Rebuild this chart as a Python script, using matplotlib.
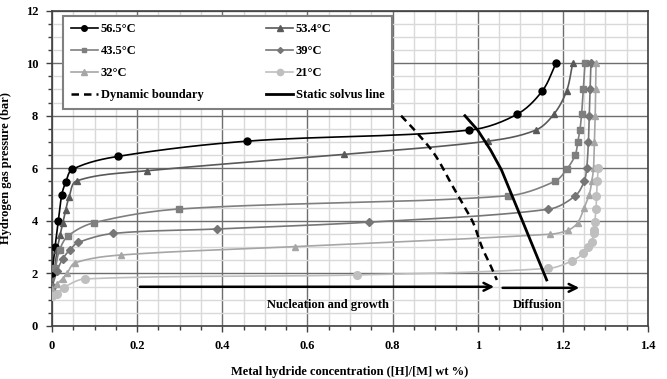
import numpy as np
import matplotlib
matplotlib.use('Agg')
import matplotlib.pyplot as plt
from matplotlib.ticker import MultipleLocator

plt.rcParams['font.family'] = ['Liberation Serif', 'DejaVu Serif']
plt.rcParams['font.weight'] = 'bold'

# isotherm data: concentration ([H]/[M]) and pressure (bar)
x_565 = [0.0, 0.007, 0.015, 0.023, 0.032, 0.048, 0.154, 0.457, 0.980, 1.092, 1.152, 1.184]
p_565 = [2.0, 3.0, 4.0, 5.0, 5.46, 5.96, 6.45, 7.03, 7.45, 8.05, 8.95, 10.0]

x_534 = [0.0, 0.006, 0.012, 0.019, 0.025, 0.032, 0.040, 0.058, 0.222, 0.687, 1.023, 1.136, 1.179, 1.209, 1.223]
p_534 = [1.6, 2.2, 2.9, 3.46, 3.9, 4.4, 4.9, 5.52, 5.9, 6.53, 7.03, 7.45, 8.06, 8.95, 10.0]

x_435 = [0.0, 0.008, 0.018, 0.038, 0.099, 0.299, 1.070, 1.181, 1.209, 1.229, 1.235, 1.240, 1.244, 1.248, 1.252]
p_435 = [1.5, 2.2, 2.9, 3.43, 3.93, 4.45, 4.95, 5.5, 5.96, 6.5, 7.0, 7.45, 8.05, 9.0, 10.0]

x_39 = [0.0, 0.012, 0.025, 0.042, 0.062, 0.144, 0.388, 0.745, 1.166, 1.229, 1.250, 1.256, 1.260, 1.262, 1.264, 1.266]
p_39 = [1.5, 2.1, 2.55, 2.9, 3.18, 3.52, 3.69, 3.95, 4.44, 4.95, 5.5, 6.0, 7.0, 8.0, 9.0, 10.0]

x_32 = [0.0, 0.012, 0.025, 0.035, 0.054, 0.162, 0.571, 1.170, 1.213, 1.235, 1.250, 1.262, 1.268, 1.272, 1.274, 1.276, 1.277, 1.278]
p_32 = [1.4, 1.6, 1.8, 2.0, 2.4, 2.7, 3.02, 3.49, 3.65, 3.93, 4.5, 5.0, 5.5, 6.0, 7.0, 8.0, 9.0, 10.0]

x_21 = [0.0, 0.011, 0.027, 0.078, 0.717, 1.166, 1.221, 1.248, 1.260, 1.268, 1.272, 1.274, 1.275, 1.278, 1.279, 1.281, 1.283]
p_21 = [1.15, 1.22, 1.46, 1.79, 1.94, 2.19, 2.47, 2.76, 3.0, 3.2, 3.53, 3.65, 3.97, 4.44, 4.95, 5.5, 6.0]

# boundaries
x_dyn = [0.82, 0.86, 0.90, 0.94, 0.97, 0.99, 1.01, 1.03, 1.045]
p_dyn = [8.0, 7.3, 6.5, 5.35, 4.5, 3.9, 3.0, 2.3, 1.75]
x_sol = [0.97, 1.0, 1.03, 1.056, 1.162]
p_sol = [8.0, 7.45, 6.7, 5.93, 1.75]


def smooth(xs, ys, n=16):
    # Excel-like smoothed line through the points (bezier, tangents from neighbours)
    sx, sy = 596 / 1.4, 315 / 12.0
    P = np.column_stack([np.asarray(xs) * sx, np.asarray(ys) * sy])
    m = len(P)
    T = np.zeros_like(P)
    for i in range(m):
        d = P[min(i + 1, m - 1)] - P[max(i - 1, 0)]
        T[i] = d / (np.hypot(*d) or 1)
    t = np.linspace(0, 1, n)[:, None]
    out = [P[:1]]
    for i in range(m - 1):
        L = np.hypot(*(P[i + 1] - P[i]))
        c1 = P[i] + T[i] * L / 3
        c2 = P[i + 1] - T[i + 1] * L / 3
        seg = ((1 - t) ** 3) * P[i] + 3 * ((1 - t) ** 2) * t * c1 + 3 * (1 - t) * t ** 2 * c2 + t ** 3 * P[i + 1]
        out.append(seg[1:])
    out = np.vstack(out)
    return out[:, 0] / sx, out[:, 1] / sy


fig = plt.figure(figsize=(6.67, 3.79), dpi=100)
ax = fig.add_axes([0.078, 0.140, 0.8935, 0.832])

series = [
    (x_565, p_565, '56.5°C', '#000000', 'o', 5),
    (x_534, p_534, '53.4°C', '#595959', '^', 5),
    (x_435, p_435, '43.5°C', '#7f7f7f', 's', 4.5),
    (x_39, p_39, '39°C', '#767676', 'D', 4),
    (x_32, p_32, '32°C', '#a6a6a6', '^', 5),
    (x_21, p_21, '21°C', '#bfbfbf', 'o', 5.5),
]

handles = {}
for xs, ps, lab, col, mk, ms in series:
    sxs, sps = smooth(xs, ps)
    ax.plot(sxs, sps, color=col, lw=1.2, zorder=3)
    ax.plot(xs, ps, ls='none', marker=mk, ms=ms, color=col, zorder=4)
    handles[lab] = ax.plot([], [], color=col, lw=1.2, marker=mk, ms=ms - 1)[0]

dyn, = ax.plot(*smooth(x_dyn, p_dyn), color='black', lw=1.8, ls=(0, (3, 2)), zorder=5)
sol, = ax.plot(x_sol, p_sol, color='black', lw=2.0, zorder=5)

# arrows and annotations
ax.annotate('', xy=(1.045, 1.49), xytext=(0.2, 1.49),
            arrowprops=dict(arrowstyle='->', color='black', lw=1.8, mutation_scale=14))
ax.annotate('', xy=(1.245, 1.45), xytext=(1.052, 1.45),
            arrowprops=dict(arrowstyle='->', color='black', lw=1.8, mutation_scale=14))
ax.text(0.648, 0.78, 'Nucleation and growth', ha='center', va='center', fontsize=9, fontweight='bold')
ax.text(1.14, 0.78, 'Diffusion', ha='center', va='center', fontsize=9, fontweight='bold')

ax.set_xlim(0, 1.4)
ax.set_ylim(0, 12)
ax.xaxis.set_major_locator(MultipleLocator(0.2))
ax.xaxis.set_minor_locator(MultipleLocator(0.05))
ax.yaxis.set_major_locator(MultipleLocator(2))
ax.yaxis.set_minor_locator(MultipleLocator(0.5))
ax.set_xticks(np.arange(0, 1.41, 0.2))
ax.set_xticklabels(['0', '0.2', '0.4', '0.6', '0.8', '1', '1.2', '1.4'])
ax.grid(which='major', color='#6e6e6e', lw=1.0, zorder=0)
ax.grid(which='minor', color='#d9d9d9', lw=1.0, zorder=0)
ax.set_axisbelow(True)
ax.tick_params(which='major', direction='out', length=4, width=1, color='#404040', labelsize=9, pad=6)
ax.tick_params(which='minor', direction='out', length=3, width=1, color='#404040')
for s in ax.spines.values():
    s.set_color('#404040')
    s.set_linewidth(1.2)
for lbl in ax.get_xticklabels() + ax.get_yticklabels():
    lbl.set_fontweight('bold')

ax.set_xlabel('Metal hydride concentration ([H]/[M] wt %)', fontsize=9, fontweight='bold', labelpad=10)
ax.set_ylabel('Hydrogen gas pressure (bar)', fontsize=9, fontweight='bold', labelpad=10)

order = [handles['56.5°C'], handles['43.5°C'], handles['32°C'], dyn,
         handles['53.4°C'], handles['39°C'], handles['21°C'], sol]
labels = ['56.5°C', '43.5°C', '32°C', 'Dynamic boundary',
          '53.4°C', '39°C', '21°C', 'Static solvus line']
leg = ax.legend(order, labels, ncol=2, loc='upper left', bbox_to_anchor=(0.008, 1.003),
                fancybox=False, framealpha=1, edgecolor='#808080',
                handlelength=2.2, handletextpad=0.2, columnspacing=5.0,
                labelspacing=0.8, borderpad=0.6, prop={'weight': 'bold', 'size': 9})
leg.get_frame().set_linewidth(1.5)
leg.set_zorder(10)

fig.savefig('out.png', dpi=100)
